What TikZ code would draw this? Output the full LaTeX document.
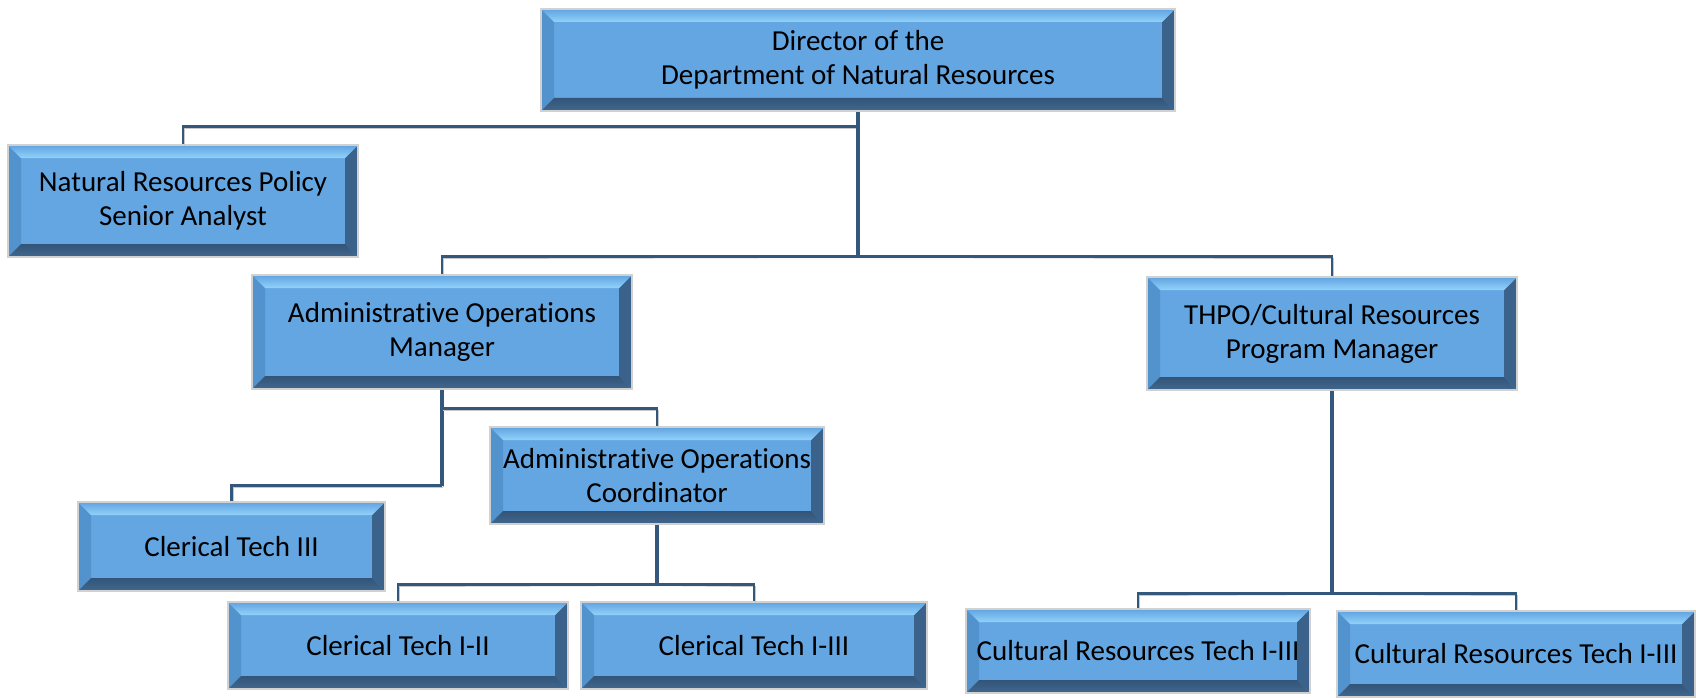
\documentclass[tikz,border=0pt]{standalone}
\usepackage{fontspec}
\setmainfont[Ligatures=NoCommon]{Carlito}
\usepackage{tikz}

\definecolor{faceblue}{RGB}{99,166,226}
\definecolor{bevtopA}{RGB}{96,163,224}
\definecolor{bevtopB}{RGB}{146,210,250}
\definecolor{bevleft}{RGB}{82,146,205}
\definecolor{bevright}{RGB}{58,98,138}
\definecolor{bevbotA}{RGB}{50,84,120}
\definecolor{bevbotB}{RGB}{66,104,142}
\definecolor{linkblue}{RGB}{52,88,124}
\newcommand\postfont{\fontsize{29}{34}\selectfont}

\begin{document}
\begin{tikzpicture}[x=1pt,y=1pt]
\tikzset{
    post/.style 2 args={
        draw=black!18, line width=1.2pt, fill=faceblue,
        minimum width=#1, minimum height=#2, inner sep=0pt,
        align=center, font=\postfont,
        path picture={
            \path (path picture bounding box.north west) coordinate (tl)
                  (path picture bounding box.north east) coordinate (tr)
                  (path picture bounding box.south east) coordinate (br)
                  (path picture bounding box.south west) coordinate (bl);
            \fill[bevleft] (tl) -- ++(13,-13) -- ([shift={(13,13)}]bl) -- (bl) -- cycle;
            \fill[bevright] (tr) -- ++(-13,-13) -- ([shift={(-13,13)}]br) -- (br) -- cycle;
            \shade[top color=bevtopA, bottom color=bevtopB]
                (tl) -- (tr) -- ++(-13,-13) -- ([shift={(13,-13)}]tl) -- cycle;
            \shade[top color=bevbotA, bottom color=bevbotB]
                (bl) -- (br) -- ++(-13,13) -- ([shift={(13,13)}]bl) -- cycle;
        }
    },
    link/.style={draw=linkblue, line width=2.5pt,
        preaction={draw=black!22, transform canvas={shift={(1.2pt,-1.2pt)}}}},
    trunk/.style={link, line width=3.6pt}
}
\useasboundingbox (0,0) rectangle (1696,-698);

% Posts
\node[post={634}{102}] (dir) at (858,-60) {Director of the\\Department of Natural Resources};
\node[post={350}{112}] (nrp) at (183,-201) {Natural Resources Policy\\Senior Analyst};
\node[post={380}{114}] (aom) at (442,-332) {Administrative Operations\\Manager};
\node[post={370}{113}] (thpo) at (1332,-333.5) {THPO/Cultural Resources\\Program Manager};
\node[post={334}{97}] (aoc) at (657,-475.5) {Administrative Operations\\Coordinator};
\node[post={307}{89}] (ct3) at (231.5,-546.5) {Clerical Tech III};
\node[post={340}{87}] (ct12) at (398,-645.5) {Clerical Tech I-II};
\node[post={346}{87}] (ct13) at (754,-645.5) {Clerical Tech I-III};
\node[post={344}{84}] (crt1) at (1138,-651) {Cultural Resources Tech I-III};
\node[post={358}{86}] (crt2) at (1516,-654) {Cultural Resources Tech I-III};

% Reporting lines
\draw[link] (dir.south) -- ++(0,-15) -| (nrp.north);
\draw[trunk] (dir.south) -- ++(0,-145) coordinate (hub);
\draw[link] (aom.north) |- (hub) -| (thpo.north);

\draw[trunk] (aom.south) -- ++(0,-96) coordinate (aomhub);
\draw[link] (aomhub) -| (ct3.north);
\draw[link] ([yshift=-19pt]aom.south) -| (aoc.north);

\draw[trunk] (aoc.south) -- ++(0,-60) coordinate (aochub);
\draw[link] (ct12.north) |- (aochub) -| (ct13.north);

\draw[trunk] (thpo.south) -- ++(0,-203) coordinate (thpohub);
\draw[link] (crt1.north) |- (thpohub) -| (crt2.north);
\end{tikzpicture}
\end{document}
